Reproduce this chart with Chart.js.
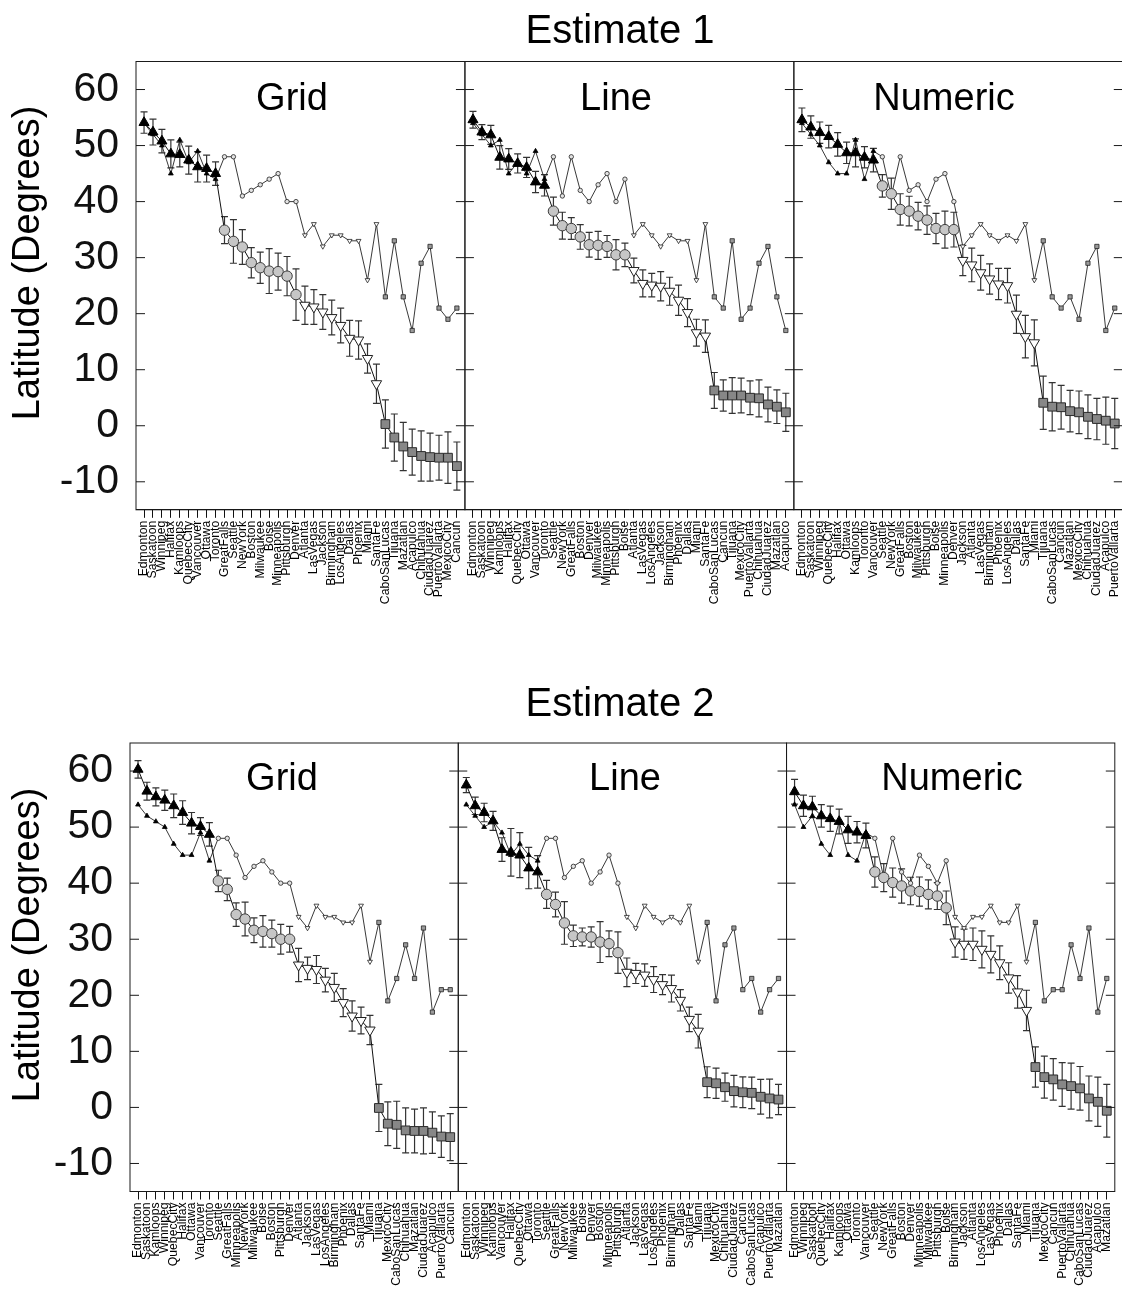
<!DOCTYPE html>
<html>
<head>
<meta charset="utf-8">
<title>Estimate 1 / Estimate 2</title>
<script src="https://cdn.jsdelivr.net/npm/chart.js@4.4.1/dist/chart.umd.min.js"></script>
<style>
  html, body { margin: 0; padding: 0; background: #fff; overflow: hidden; }
  canvas { position: absolute; left: 0; }
  #row1 { top: 0; }
  #row2 { top: 660px; }
</style>
</head>
<body>
<canvas id="row1" width="1130" height="625"></canvas>
<canvas id="row2" width="1122" height="630"></canvas>
<script>
// city groups (marker shape follows the group)
const CANADA   = ['Edmonton','Saskatoon','Winnipeg','Halifax','Kamloops','QuebecCity','Vancouver','Ottawa','Toronto'];
const US_NORTH = ['GreatFalls','Seattle','NewYork','Boston','Milwaukee','Boise','Minneapolis','Pittsburgh','Denver'];
const US_SOUTH = ['Atlanta','LasVegas','Jackson','Birmingham','LosAngeles','Dallas','Phoenix','Miami','SantaFe'];
const MEXICO   = ['CaboSanLucas','Tijuana','Mazatlan','Acapulco','Chihuahua','CiudadJuarez','PuertoVallarta','MexicoCity','Cancun'];

// actual latitude (thin line, small markers), same order as the groups above
const TRUE_LAT = [54, 52, 50, 45, 51, 47, 49, 45, 44,
                  48, 48, 41, 42, 43, 44, 45, 40, 40,
                  34, 36, 32, 34, 34, 33, 33, 26, 36,
                  23, 33, 23, 17, 29, 32, 21, 19, 21];

const PANEL_TITLES = ['Grid', 'Line', 'Numeric'];
const Y_TICKS = [-10, 0, 10, 20, 30, 40, 50, 60];

// ---- Estimate 1 ----
const E1_GRID_CITIES = ['Edmonton','Saskatoon','Winnipeg','Halifax','Kamloops','QuebecCity','Vancouver','Ottawa','Toronto','GreatFalls','Seattle','NewYork','Boston','Milwaukee','Boise','Minneapolis','Pittsburgh','Denver','Atlanta','LasVegas','Jackson','Birmingham','LosAngeles','Dallas','Phoenix','Miami','SantaFe','CaboSanLucas','Tijuana','Mazatlan','Acapulco','Chihuahua','CiudadJuarez','PuertoVallarta','MexicoCity','Cancun'];
const E1_GRID_EST = [54.1, 52.4, 50.8, 48.5, 48.4, 47.4, 46.2, 45.9, 45.0, 34.9, 32.9, 31.9, 29.1, 28.2, 27.6, 27.5, 26.7, 23.4, 21.5, 21.2, 20.3, 19.3, 17.9, 15.6, 15.3, 12.0, 7.5, 0.3, -2.1, -3.7, -4.7, -5.4, -5.6, -5.7, -5.7, -7.2];
const E1_GRID_ERR = [1.9, 2.3, 2.1, 2.5, 2.2, 2.5, 2.7, 2.4, 2.1, 2.4, 3.9, 3.1, 2.7, 2.8, 4.0, 3.3, 3.5, 4.6, 3.4, 3.1, 3.1, 3.1, 3.1, 3.2, 3.4, 2.6, 3.5, 4.3, 4.2, 4.3, 4.1, 4.5, 4.3, 4.0, 4.6, 4.3];

const E1_LINE_CITIES = ['Edmonton','Saskatoon','Winnipeg','Kamloops','Halifax','QuebecCity','Ottawa','Vancouver','Toronto','Seattle','NewYork','GreatFalls','Boston','Denver','Milwaukee','Minneapolis','Pittsburgh','Boise','Atlanta','LasVegas','LosAngeles','Jackson','Birmingham','Phoenix','Dallas','Miami','SantaFe','CaboSanLucas','Cancun','Tijuana','MexicoCity','PuertoVallarta','Chihuahua','CiudadJuarez','Mazatlan','Acapulco'];
const E1_LINE_EST = [54.6, 52.4, 51.9, 47.9, 47.6, 46.8, 46.1, 43.5, 42.9, 38.3, 35.7, 35.2, 33.7, 32.3, 32.2, 32.0, 30.5, 30.5, 27.7, 25.4, 25.1, 24.9, 24.0, 22.4, 20.2, 16.6, 16.0, 6.3, 5.4, 5.4, 5.4, 5.0, 4.9, 3.8, 3.4, 2.4];
const E1_LINE_ERR = [1.5, 1.35, 1.7, 2.1, 1.85, 1.7, 1.8, 1.9, 1.9, 2.5, 2.4, 1.95, 2.2, 2.2, 2.5, 1.95, 2.7, 2.1, 2.2, 2.4, 2.1, 2.6, 2.5, 2.7, 2.5, 2.4, 2.9, 3.2, 2.8, 3.2, 3.1, 3.0, 3.3, 3.1, 3.0, 3.4];

const E1_NUM_CITIES = ['Edmonton','Saskatoon','Winnipeg','QuebecCity','Halifax','Ottawa','Kamloops','Toronto','Vancouver','Seattle','NewYork','GreatFalls','Boston','Milwaukee','Pittsburgh','Boise','Minneapolis','Denver','Jackson','Atlanta','LasVegas','Birmingham','Phoenix','LosAngeles','Dallas','SantaFe','Miami','Tijuana','CaboSanLucas','Cancun','Mazatlan','MexicoCity','Chihuahua','CiudadJuarez','Acapulco','PuertoVallarta'];
const E1_NUM_EST = [54.6, 53.3, 52.3, 51.6, 50.2, 48.7, 48.7, 47.9, 47.4, 42.8, 41.4, 38.6, 38.3, 37.4, 36.7, 35.2, 35.0, 35.0, 29.5, 28.7, 27.3, 26.2, 25.3, 25.0, 19.9, 15.9, 14.8, 4.1, 3.4, 3.3, 2.6, 2.4, 1.6, 1.2, 0.9, 0.4];
const E1_NUM_ERR = [2.1, 2.0, 1.9, 2.0, 2.1, 1.9, 2.5, 1.9, 2.1, 2.0, 2.8, 2.8, 2.65, 2.45, 2.55, 2.7, 3.3, 3.1, 2.7, 3.0, 3.1, 2.7, 2.8, 3.1, 3.4, 3.8, 4.1, 4.75, 4.3, 3.9, 3.7, 3.8, 3.9, 3.7, 4.2, 4.5];

// ---- Estimate 2 ----
const E2_GRID_CITIES = ['Edmonton','Saskatoon','Kamloops','Winnipeg','QuebecCity','Halifax','Ottawa','Vancouver','Toronto','Seattle','GreatFalls','Minneapolis','NewYork','Milwaukee','Boise','Boston','Pittsburgh','Denver','Atlanta','Jackson','LasVegas','LosAngeles','Birmingham','Phoenix','Dallas','SantaFe','Miami','Tijuana','MexicoCity','CaboSanLucas','Chihuahua','Mazatlan','CiudadJuarez','Acapulco','PuertoVallarta','Cancun'];
const E2_GRID_EST = [60.3, 56.4, 55.4, 54.8, 53.8, 52.6, 50.7, 50.1, 48.7, 40.4, 38.9, 34.4, 33.6, 31.6, 31.4, 31.0, 30.0, 30.0, 25.4, 24.8, 24.6, 22.7, 21.4, 18.7, 16.3, 15.5, 13.8, -0.1, -2.9, -3.1, -4.1, -4.2, -4.2, -4.5, -5.2, -5.3];
const E2_GRID_ERR = [1.55, 1.6, 1.6, 1.8, 2.1, 2.1, 1.9, 1.6, 2.1, 1.9, 2.0, 2.1, 3.0, 2.2, 2.8, 2.4, 2.65, 2.3, 2.95, 2.0, 2.5, 2.1, 2.5, 2.5, 2.7, 2.4, 2.6, 4.2, 3.9, 4.2, 4.0, 3.9, 4.1, 3.7, 3.7, 4.2];

const E2_LINE_CITIES = ['Edmonton','Saskatoon','Winnipeg','Kamloops','Vancouver','Halifax','QuebecCity','Ottawa','Toronto','Seattle','GreatFalls','NewYork','Milwaukee','Boise','Denver','Boston','Minneapolis','Pittsburgh','Atlanta','Jackson','LasVegas','LosAngeles','Phoenix','Birmingham','Dallas','SantaFe','Miami','Tijuana','MexicoCity','Chihuahua','CiudadJuarez','Cancun','CaboSanLucas','Acapulco','PuertoVallarta','Mazatlan'];
const E2_LINE_EST = [57.5, 53.8, 52.6, 51.1, 46.0, 45.5, 45.0, 42.7, 42.0, 38.0, 36.2, 32.9, 30.6, 30.4, 30.4, 29.5, 29.2, 27.6, 24.1, 23.9, 23.6, 22.8, 21.9, 21.2, 19.1, 15.7, 13.6, 4.5, 4.3, 3.6, 2.9, 2.7, 2.6, 1.9, 1.6, 1.4];
const E2_LINE_ERR = [1.35, 1.55, 1.65, 1.7, 2.1, 4.25, 4.0, 3.7, 2.9, 2.5, 2.2, 3.8, 1.9, 1.6, 1.8, 3.65, 2.3, 3.7, 2.55, 1.8, 2.0, 2.3, 1.8, 2.4, 1.9, 2.2, 3.0, 2.75, 2.7, 2.5, 2.8, 2.75, 2.8, 3.1, 3.45, 2.7];

const E2_NUM_CITIES = ['Edmonton','Winnipeg','Saskatoon','QuebecCity','Halifax','Kamloops','Ottawa','Toronto','Vancouver','Seattle','NewYork','GreatFalls','Boston','Denver','Minneapolis','Milwaukee','Pittsburgh','Boise','Birmingham','Jackson','Atlanta','LosAngeles','LasVegas','Phoenix','Dallas','SantaFe','Miami','Tijuana','MexicoCity','Cancun','PuertoVallarta','Chihuahua','CaboSanLucas','CiudadJuarez','Acapulco','Mazatlan'];
const E2_NUM_EST = [56.3, 53.8, 53.6, 52.0, 51.5, 51.0, 49.5, 49.1, 48.5, 42.0, 41.0, 40.1, 39.5, 38.6, 38.5, 38.0, 37.7, 35.6, 29.5, 29.1, 29.1, 28.2, 27.3, 25.8, 23.1, 20.6, 17.3, 7.2, 5.4, 5.0, 4.1, 3.8, 3.4, 1.6, 1.0, -0.6];
const E2_NUM_ERR = [2.2, 1.9, 1.9, 2.0, 2.25, 2.2, 2.4, 1.9, 2.2, 2.7, 2.5, 2.6, 3.05, 2.45, 2.6, 2.6, 2.4, 3.0, 2.7, 2.7, 2.9, 3.3, 3.3, 3.0, 2.7, 2.9, 3.6, 3.6, 3.75, 3.7, 3.9, 4.1, 3.9, 4.0, 4.4, 4.7];

// ---- drawing ----
const FONT = '"Liberation Sans", Arial, Helvetica, sans-serif';
Chart.defaults.font.family = FONT;

const SPAN = 36.8;   // x units taken by one panel
const X_PAD = 0.9;   // gap between panel edge and first/last city

const ALL_CITIES = CANADA.concat(US_NORTH, US_SOUTH, MEXICO);
function groupOf(city) {
  if (CANADA.includes(city)) return 0;
  if (US_NORTH.includes(city)) return 1;
  if (US_SOUTH.includes(city)) return 2;
  return 3;
}
function trueLat(city) { return TRUE_LAT[ALL_CITIES.indexOf(city)]; }

const BIG = [
  { style: 'triangle', rot: 0,   fill: '#000',    stroke: '#000',    r: 5.8 },
  { style: 'circle',   rot: 0,   fill: '#c6c6c6', stroke: '#3c3c3c', r: 5.2 },
  { style: 'triangle', rot: 180, fill: '#fff',    stroke: '#222',    r: 6.0 },
  { style: 'rect',     rot: 0,   fill: '#878787', stroke: '#2a2a2a', r: 6.2 }
];
const SMALL = [
  { style: 'triangle', rot: 0,   fill: '#000',    stroke: '#000', r: 2.8 },
  { style: 'circle',   rot: 0,   fill: '#e2e2e2', stroke: '#222', r: 2.2 },
  { style: 'triangle', rot: 180, fill: '#fff',    stroke: '#222', r: 2.8 },
  { style: 'rect',     rot: 0,   fill: '#9a9a9a', stroke: '#222', r: 3.0 }
];

function panelDatasets(k, cities, est, err) {
  const big = cities.map(c => BIG[groupOf(c)]);
  const small = cities.map(c => SMALL[groupOf(c)]);
  return [
    {
      data: cities.map((c, i) => ({ x: k * SPAN + i, y: est[i] })),
      errors: err,
      order: 1,
      borderColor: '#111',
      borderWidth: 1,
      tension: 0,
      pointStyle: big.map(m => m.style),
      pointRotation: big.map(m => m.rot),
      pointBackgroundColor: big.map(m => m.fill),
      pointBorderColor: big.map(m => m.stroke),
      pointRadius: big.map(m => m.r),
      pointHoverRadius: big.map(m => m.r),
      pointBorderWidth: 1
    },
    {
      data: cities.map((c, i) => ({ x: k * SPAN + i, y: trueLat(c) })),
      order: 2,
      borderColor: '#222',
      borderWidth: 0.9,
      tension: 0,
      pointStyle: small.map(m => m.style),
      pointRotation: small.map(m => m.rot),
      pointBackgroundColor: small.map(m => m.fill),
      pointBorderColor: small.map(m => m.stroke),
      pointRadius: small.map(m => m.r),
      pointHoverRadius: small.map(m => m.r),
      pointBorderWidth: 0.8
    }
  ];
}

const decor = {
  id: 'decor',
  beforeDatasetsDraw(chart) {
    const { ctx } = chart;
    const xs = chart.scales.x, ys = chart.scales.y;
    ctx.save();
    ctx.strokeStyle = '#333';
    ctx.lineWidth = 1.2;
    chart.data.datasets.forEach(ds => {
      if (!ds.errors) return;
      ds.data.forEach((p, i) => {
        const px = xs.getPixelForValue(p.x);
        const lo = ys.getPixelForValue(p.y - ds.errors[i]);
        const hi = ys.getPixelForValue(p.y + ds.errors[i]);
        ctx.beginPath();
        ctx.moveTo(px, lo); ctx.lineTo(px, hi);
        ctx.moveTo(px - 3.5, lo); ctx.lineTo(px + 3.5, lo);
        ctx.moveTo(px - 3.5, hi); ctx.lineTo(px + 3.5, hi);
        ctx.stroke();
      });
    });
    ctx.restore();
  },
  afterDraw(chart, args, opts) {
    const { ctx, chartArea: a } = chart;
    const xs = chart.scales.x, ys = chart.scales.y;
    ctx.save();
    ctx.strokeStyle = '#1a1a1a';
    ctx.lineWidth = 1;
    ctx.fillStyle = '#000';
    for (let k = 0; k < 3; k++) {
      const l = xs.getPixelForValue(k * SPAN - X_PAD);
      const r = xs.getPixelForValue((k + 1) * SPAN - X_PAD);
      ctx.strokeRect(l, a.top, r - l, a.bottom - a.top);
      ctx.beginPath();
      Y_TICKS.forEach(v => {
        const py = ys.getPixelForValue(v);
        ctx.moveTo(l, py); ctx.lineTo(l + 9, py);
        ctx.moveTo(r - 9, py); ctx.lineTo(r, py);
      });
      ctx.stroke();
      ctx.font = '38px ' + FONT;
      ctx.textAlign = 'center';
      ctx.textBaseline = 'alphabetic';
      ctx.fillText(PANEL_TITLES[k], opts.titleX[k], opts.titleBase);
    }
    ctx.font = '40px ' + FONT;
    ctx.fillText(opts.rowTitle, 620, opts.rowBase);
    ctx.translate(opts.yLabelX, opts.yLabelY);
    ctx.rotate(-Math.PI / 2);
    ctx.textBaseline = 'middle';
    ctx.font = '38px ' + FONT;
    ctx.fillText('Latitude (Degrees)', 0, 0);
    ctx.restore();
  }
};

function makeRow(canvasId, panels, geo) {
  const labels = panels.flatMap(p => p[0]);
  const datasets = panels.flatMap((p, k) => panelDatasets(k, p[0], p[1], p[2]));
  const canvas = document.getElementById(canvasId);
  return new Chart(canvas, {
    type: 'line',
    data: { datasets },
    plugins: [decor],
    options: {
      responsive: false,
      animation: false,
      events: [],
      layout: { padding: { top: geo.top, left: 0, right: geo.right, bottom: 0 } },
      plugins: {
        legend: { display: false },
        tooltip: { enabled: false },
        decor: geo.decor
      },
      scales: {
        x: {
          type: 'linear',
          min: -X_PAD,
          max: 3 * SPAN - X_PAD,
          afterBuildTicks: s => { s.ticks = labels.map((c, i) => ({ value: Math.floor(i / 36) * SPAN + (i % 36) })); },
          afterFit: s => { s.height = geo.xHeight; s.paddingLeft = 0; s.paddingRight = 0; },
          ticks: {
            autoSkip: false,
            minRotation: 90,
            maxRotation: 90,
            padding: 3,
            color: '#000',
            font: { size: 12.2 },
            callback: (v, i) => labels[i]
          },
          grid: { display: true, drawOnChartArea: false, drawTicks: true, tickLength: 8, color: '#111' },
          border: { display: true, color: '#111' }
        },
        y: {
          type: 'linear',
          position: 'left',
          min: -15,
          max: 65,
          afterBuildTicks: s => { s.ticks = Y_TICKS.map(v => ({ value: v })); },
          afterFit: s => { s.width = geo.yWidth; s.paddingTop = 0; s.paddingBottom = 0; },
          ticks: { padding: 17, color: '#111', font: { size: 41 } },
          grid: { display: false, drawTicks: false },
          border: { display: false }
        }
      }
    }
  });
}

makeRow('row1', [
  [E1_GRID_CITIES, E1_GRID_EST, E1_GRID_ERR],
  [E1_LINE_CITIES, E1_LINE_EST, E1_LINE_ERR],
  [E1_NUM_CITIES,  E1_NUM_EST,  E1_NUM_ERR]
], {
  top: 61.5, right: 4, yWidth: 136, xHeight: 115.2,
  decor: { rowTitle: 'Estimate 1', rowBase: 43, titleX: [292, 616, 944], titleBase: 110, yLabelX: 29, yLabelY: 263 }
});

makeRow('row2', [
  [E2_GRID_CITIES, E2_GRID_EST, E2_GRID_ERR],
  [E2_LINE_CITIES, E2_LINE_EST, E2_LINE_ERR],
  [E2_NUM_CITIES,  E2_NUM_EST,  E2_NUM_ERR]
], {
  top: 83, right: 2, yWidth: 130, xHeight: 98.5,
  decor: { rowTitle: 'Estimate 2', rowBase: 56, titleX: [282, 625, 952], titleBase: 130, yLabelX: 29, yLabelY: 285 }
});
</script>
</body>
</html>
